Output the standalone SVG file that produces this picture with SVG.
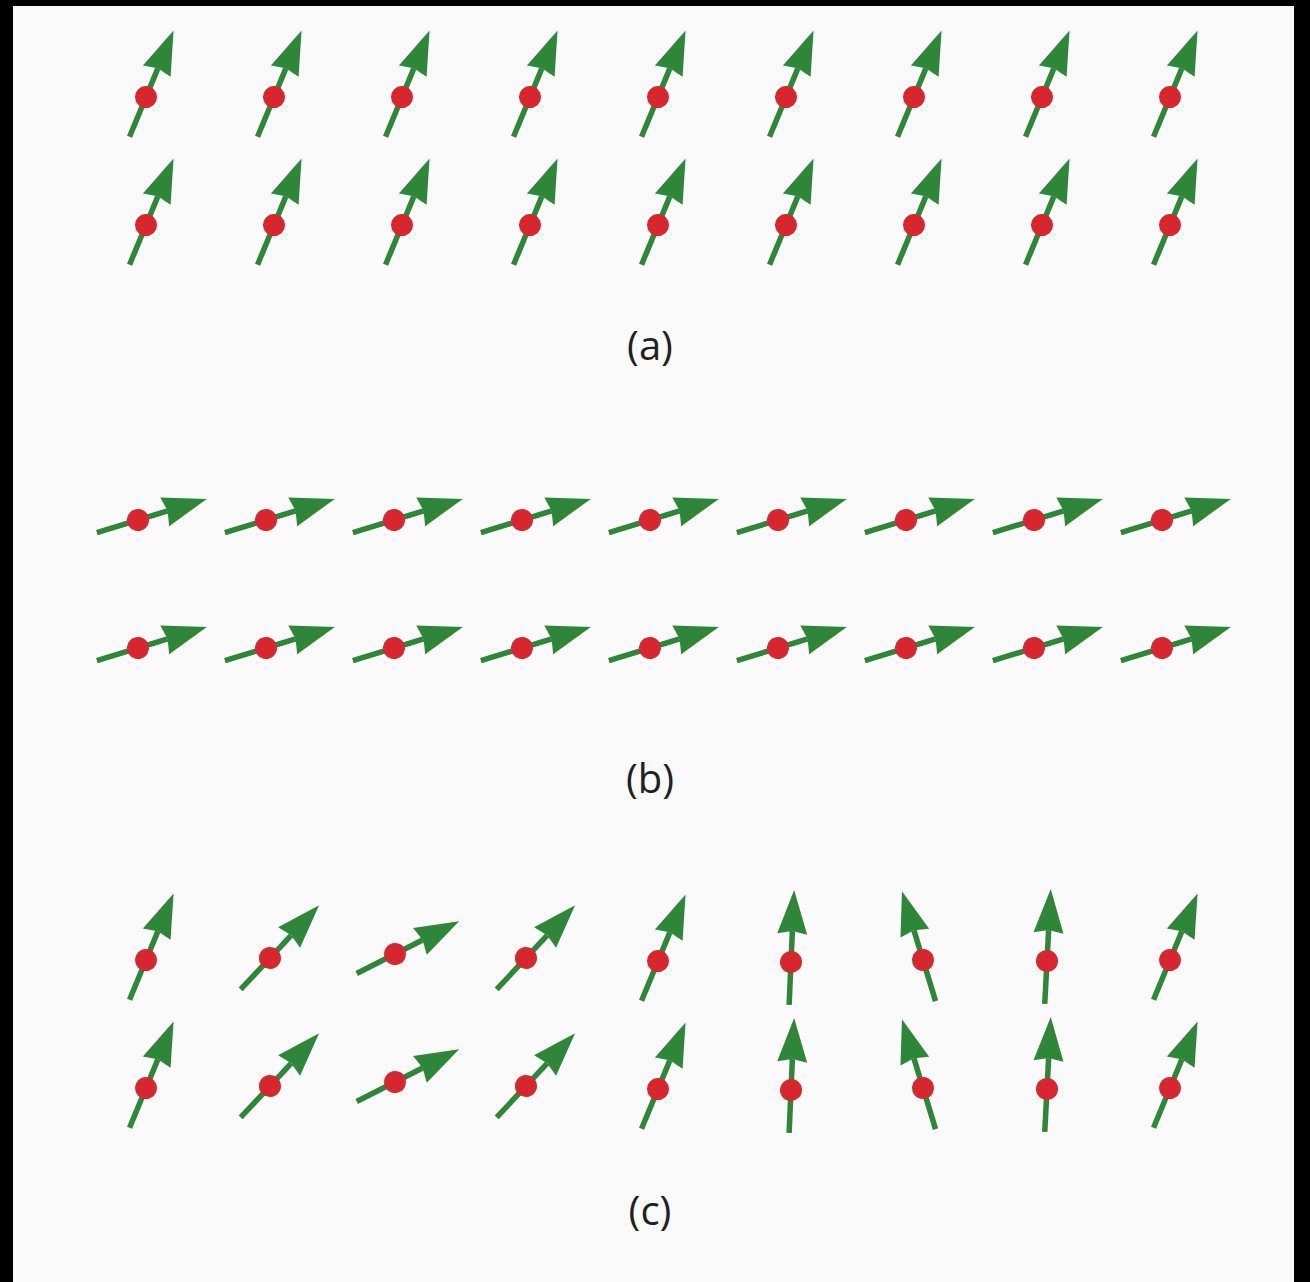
<svg xmlns="http://www.w3.org/2000/svg" xmlns:xlink="http://www.w3.org/1999/xlink" width="1310" height="1282" viewBox="0 0 1310 1282">
<style>
.shaft{stroke:#2e8638;stroke-width:5.5;fill:none;stroke-linecap:butt}
.head{fill:#2e8638}
.dot{fill:#d8262e}
.lbl{font-family:"Open Sans","Noto Sans","Liberation Sans",sans-serif;font-size:40px;fill:#231f20;text-anchor:middle}
</style>
<defs>
<g id="spin">
<line class="shaft" x1="0" y1="43" x2="0" y2="-31"/>
<polygon class="head" points="0,-72 15,-28 0,-31 -15,-28"/>
<circle class="dot" cx="0" cy="0" r="11"/>
</g>
</defs>
<rect x="0" y="0" width="1310" height="1282" fill="#000"/>
<rect x="13" y="6" width="1281" height="1276" fill="#fafafa"/>

<g id="panel-a">
<g id="a-r1">
<use xlink:href="#spin" transform="translate(146,97) rotate(22.5)"/>
<use xlink:href="#spin" transform="translate(274,97) rotate(22.5)"/>
<use xlink:href="#spin" transform="translate(402,97) rotate(22.5)"/>
<use xlink:href="#spin" transform="translate(530,97) rotate(22.5)"/>
<use xlink:href="#spin" transform="translate(658,97) rotate(22.5)"/>
<use xlink:href="#spin" transform="translate(786,97) rotate(22.5)"/>
<use xlink:href="#spin" transform="translate(914,97) rotate(22.5)"/>
<use xlink:href="#spin" transform="translate(1042,97) rotate(22.5)"/>
<use xlink:href="#spin" transform="translate(1170,97) rotate(22.5)"/>
</g>
<g id="a-r2">
<use xlink:href="#spin" transform="translate(146,225) rotate(22.5)"/>
<use xlink:href="#spin" transform="translate(274,225) rotate(22.5)"/>
<use xlink:href="#spin" transform="translate(402,225) rotate(22.5)"/>
<use xlink:href="#spin" transform="translate(530,225) rotate(22.5)"/>
<use xlink:href="#spin" transform="translate(658,225) rotate(22.5)"/>
<use xlink:href="#spin" transform="translate(786,225) rotate(22.5)"/>
<use xlink:href="#spin" transform="translate(914,225) rotate(22.5)"/>
<use xlink:href="#spin" transform="translate(1042,225) rotate(22.5)"/>
<use xlink:href="#spin" transform="translate(1170,225) rotate(22.5)"/>
</g>
<text id="label-a" class="lbl" x="650" y="360">(a)</text>
</g>

<g id="panel-b">
<g id="b-r1">
<use xlink:href="#spin" transform="translate(138,520) rotate(73)"/>
<use xlink:href="#spin" transform="translate(266,520) rotate(73)"/>
<use xlink:href="#spin" transform="translate(394,520) rotate(73)"/>
<use xlink:href="#spin" transform="translate(522,520) rotate(73)"/>
<use xlink:href="#spin" transform="translate(650,520) rotate(73)"/>
<use xlink:href="#spin" transform="translate(778,520) rotate(73)"/>
<use xlink:href="#spin" transform="translate(906,520) rotate(73)"/>
<use xlink:href="#spin" transform="translate(1034,520) rotate(73)"/>
<use xlink:href="#spin" transform="translate(1162,520) rotate(73)"/>
</g>
<g id="b-r2">
<use xlink:href="#spin" transform="translate(138,648) rotate(73)"/>
<use xlink:href="#spin" transform="translate(266,648) rotate(73)"/>
<use xlink:href="#spin" transform="translate(394,648) rotate(73)"/>
<use xlink:href="#spin" transform="translate(522,648) rotate(73)"/>
<use xlink:href="#spin" transform="translate(650,648) rotate(73)"/>
<use xlink:href="#spin" transform="translate(778,648) rotate(73)"/>
<use xlink:href="#spin" transform="translate(906,648) rotate(73)"/>
<use xlink:href="#spin" transform="translate(1034,648) rotate(73)"/>
<use xlink:href="#spin" transform="translate(1162,648) rotate(73)"/>
</g>
<text id="label-b" class="lbl" x="650" y="793">(b)</text>
</g>

<g id="panel-c">
<g id="c-r1">
<use xlink:href="#spin" transform="translate(146,960) rotate(22.5)"/>
<use xlink:href="#spin" transform="translate(270,958) rotate(43)"/>
<use xlink:href="#spin" transform="translate(395,954) rotate(63)"/>
<use xlink:href="#spin" transform="translate(526,958) rotate(43)"/>
<use xlink:href="#spin" transform="translate(658,961) rotate(22.5)"/>
<use xlink:href="#spin" transform="translate(791,962) rotate(2.5)"/>
<use xlink:href="#spin" transform="translate(923,960) rotate(-17)"/>
<use xlink:href="#spin" transform="translate(1047,961) rotate(3)"/>
<use xlink:href="#spin" transform="translate(1170,960) rotate(22.5)"/>
</g>
<g id="c-r2">
<use xlink:href="#spin" transform="translate(146,1088) rotate(22.5)"/>
<use xlink:href="#spin" transform="translate(270,1086) rotate(43)"/>
<use xlink:href="#spin" transform="translate(395,1082) rotate(63)"/>
<use xlink:href="#spin" transform="translate(526,1086) rotate(43)"/>
<use xlink:href="#spin" transform="translate(658,1089) rotate(22.5)"/>
<use xlink:href="#spin" transform="translate(791,1090) rotate(2.5)"/>
<use xlink:href="#spin" transform="translate(923,1088) rotate(-17)"/>
<use xlink:href="#spin" transform="translate(1047,1089) rotate(3)"/>
<use xlink:href="#spin" transform="translate(1170,1088) rotate(22.5)"/>
</g>
<text id="label-c" class="lbl" x="650" y="1225">(c)</text>
</g>
</svg>
